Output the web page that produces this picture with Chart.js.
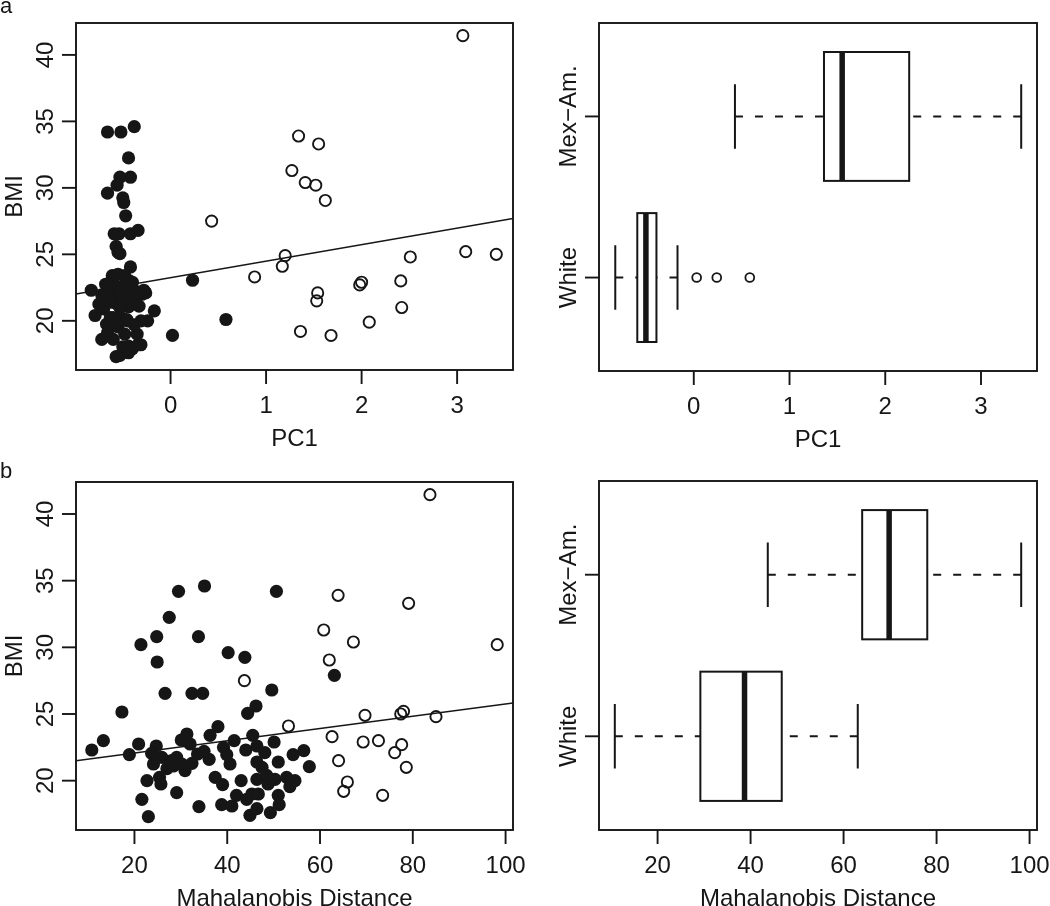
<!DOCTYPE html>
<html lang="en">
<head>
  <meta charset="UTF-8">
  <title>BMI vs PC1 / Mahalanobis Distance</title>
  <script src="https://cdn.jsdelivr.net/npm/chart.js"></script>
  <style>
    body { margin: 0; background: #fff; width: 1050px; height: 906px; overflow: hidden; }
    .panel { position: absolute; }
  </style>
</head>
<body>

<div class="panel" style="left:0;top:0"><canvas id="scatterPC1" width="540" height="453"></canvas></div>
<div class="panel" style="left:540px;top:0"><canvas id="boxPC1" width="510" height="453"></canvas></div>
<div class="panel" style="left:0;top:453px"><canvas id="scatterMD" width="540" height="453"></canvas></div>
<div class="panel" style="left:540px;top:453px"><canvas id="boxMD" width="510" height="453"></canvas></div>

<script>
// White subjects (filled dots): BMI, PC1 score, Mahalanobis distance
const whiteBMI = [34.2, 34.6, 34.2, 32.25, 30.8, 30.8, 30.2, 29.6, 29.25, 28.9, 27.9, 26.55, 26.55, 26.55, 26.8, 25.6, 25.15, 25.05, 24.05,
  22.3, 23.0, 23.4, 23.5, 23.05, 22.75, 21.95, 22.6, 22.05, 21.75, 21.75, 22.75, 22.0, 21.6, 22.5, 21.95, 21.25, 23.4, 22.6, 22.1,
  22.9, 21.95, 22.25, 21.05, 21.4, 21.4, 20.9, 21.1, 21.25, 21.3, 20.25, 20.0, 19.75, 20.25, 19.7, 20.1, 20.4, 20.1, 20.25, 19.55,
  20.0, 19.1, 18.6, 17.3, 18.05, 18.2, 18.1, 18.9, 18.6, 19.0, 19.0, 17.4, 17.9, 18.9, 18.2, 19.75, 21.25, 21.5, 20.75, 20.0, 21.0,
  22.2, 23.0, 17.6, 22.3];
const whitePC1 = [-0.66, -0.38, -0.52, -0.44, -0.42, -0.53, -0.56, -0.66, -0.50, -0.49, -0.47, -0.59, -0.54, -0.42, -0.34, -0.57, -0.55, -0.53, -0.42,
  -0.83, -0.62, -0.61, -0.55, 0.23, -0.66, -0.72, -0.50, -0.45, -0.58, -0.40, -0.68, -0.30, -0.52, -0.47, -0.64, -0.36, -0.48, -0.57, -0.26,
  -0.40, -0.69, -0.53, -0.44, -0.62, -0.49, -0.70, -0.33, -0.56, -0.41, -0.60, -0.24, -0.67, -0.52, -0.38, 0.58, -0.79, -0.46, -0.63, -0.55,
  -0.31, -0.66, -0.72, -0.57, -0.50, -0.31, -0.44, 0.02, -0.60, -0.35, -0.48, -0.53, -0.40, -0.65, -0.34, -0.58, -0.75, -0.64, -0.17, -0.45, -0.53,
  -0.36, -0.43, -0.44, -0.28];
const whiteMD = [29.5, 35.1, 50.6, 27.5, 24.8, 33.8, 21.4, 40.2, 43.8, 24.9, 63.1, 26.6, 32.4, 34.7, 49.6, 46.2, 17.3, 44.4, 38.0,
  10.8, 13.3, 36.3, 31.3, 30.1, 20.9, 18.9, 24.7, 23.7, 25.9, 29.1, 32.0, 33.6, 36.1, 39.2, 39.9, 40.6, 45.5, 46.4, 48.1,
  50.1, 54.2, 56.5, 57.7, 46.4, 51.0, 27.0, 28.4, 30.2, 32.4, 25.4, 22.7, 25.7, 37.4, 39.0, 46.4, 48.5, 50.3, 52.8, 53.5,
  54.6, 29.1, 21.6, 23.0, 33.9, 38.8, 41.0, 42.0, 44.2, 45.3, 46.7, 44.9, 46.4, 51.0, 51.2, 48.8, 24.1, 28.0, 30.9, 43.0, 47.5,
  35.0, 41.5, 49.3, 44.0];

// Mexican-American subjects (open circles)
const mexBMI = [41.45, 33.9, 33.3, 31.3, 30.4, 30.2, 29.05, 27.5, 25.2, 25.0, 24.9, 24.8, 24.1, 23.3, 23.0, 22.9, 22.7, 22.1, 21.5, 21.0, 19.9, 19.2, 18.9];
const mexPC1 = [3.06, 1.34, 1.55, 1.27, 1.41, 1.52, 1.62, 0.43, 3.09, 3.41, 1.20, 2.51, 1.17, 0.88, 2.41, 2.00, 1.98, 1.54, 1.53, 2.42, 2.08, 1.36, 1.68];
const mexMD = [83.7, 63.9, 79.1, 60.8, 67.2, 98.2, 62.0, 43.7, 78.0, 77.4, 69.7, 85.0, 53.2, 62.6, 72.6, 69.3, 77.6, 76.1, 64.0, 78.6, 65.9, 65.1, 73.5];

// least-squares fits [intercept, slope]
const fitPC1 = [23.24, 1.244];
const fitMD = [21.16, 0.046];

// boxplot stats [min, Q1, median, Q3, max]
const groups = ['White', 'Mex\u2212Am.'];
const pc1BoxWhite = [-0.82, -0.59, -0.50, -0.39, -0.17];
const pc1BoxMex = [0.43, 1.36, 1.55, 2.25, 3.42];
const pc1OutWhite = [0.03, 0.24, 0.585];
const mdBoxWhite = [10.8, 29.2, 38.7, 46.7, 63.05];
const mdBoxMex = [43.7, 64.0, 69.8, 78.0, 98.2];

// axes
const bmiTicks = [20, 25, 30, 35, 40];
const pc1Ticks = [0, 1, 2, 3];
const mdTicks = [20, 40, 60, 80, 100];
const bmiRange = [16.3, 42.4];
const pc1Range = [-0.99, 3.585];
const mdRange = [7.4, 101.6];
const groupRange = [0.42, 2.58];

const INK = '#161616';
const FONT = '24px "Liberation Sans", Arial, sans-serif';

function pairs(xs, ys) { return xs.map((x, i) => ({ x: x, y: ys[i] })); }
function fitLine(fit, range) {
  return range.map(x => ({ x: x, y: fit[0] + fit[1] * x }));
}

// R-like frame, outward ticks, rotated y labels
const rAxes = {
  id: 'rAxes',
  afterDraw(chart, args, o) {
    const ctx = chart.ctx, a = chart.chartArea;
    const xs = chart.scales.x, ys = chart.scales.y;
    ctx.save();
    ctx.strokeStyle = INK;
    ctx.fillStyle = INK;
    ctx.lineWidth = 1.9;
    ctx.strokeRect(a.left, a.top, a.right - a.left, a.bottom - a.top);
    ctx.font = FONT;
    ctx.textAlign = 'center';
    ctx.textBaseline = 'alphabetic';
    o.xTicks.forEach(v => {
      const px = xs.getPixelForValue(v);
      ctx.beginPath(); ctx.moveTo(px, a.bottom); ctx.lineTo(px, a.bottom + 14); ctx.stroke();
      ctx.fillText(String(v), px, a.bottom + 43);
    });
    ctx.fillText(o.xTitle, (a.left + a.right) / 2, a.bottom + 76);
    o.yTicks.forEach((v, i) => {
      const py = ys.getPixelForValue(v);
      ctx.beginPath(); ctx.moveTo(a.left, py); ctx.lineTo(a.left - 14, py); ctx.stroke();
      ctx.save();
      ctx.translate(a.left - 23, py);
      ctx.rotate(-Math.PI / 2);
      ctx.fillText(o.yLabels ? o.yLabels[i] : String(v), 0, 0);
      ctx.restore();
    });
    if (o.yTitle) {
      ctx.save();
      ctx.translate(a.left - 54, (a.top + a.bottom) / 2);
      ctx.rotate(-Math.PI / 2);
      ctx.fillText(o.yTitle, 0, 0);
      ctx.restore();
    }
    if (o.letter) {
      ctx.font = '22px "Liberation Sans", Arial, sans-serif';
      ctx.textAlign = 'left';
      ctx.fillText(o.letter[0], 0, o.letter[1]);
    }
    ctx.restore();
  }
};

// horizontal boxplots drawn through the chart scales
const rBoxes = {
  id: 'rBoxes',
  beforeDatasetsDraw(chart, args, o) {
    if (!o.stats) return;
    const ctx = chart.ctx, xs = chart.scales.x, ys = chart.scales.y;
    ctx.save();
    ctx.strokeStyle = INK;
    o.stats.forEach((s, i) => {
      const g = i + 1;
      const X = v => xs.getPixelForValue(v);
      const yTop = ys.getPixelForValue(g + 0.4), yBot = ys.getPixelForValue(g - 0.4);
      const yc = ys.getPixelForValue(g);
      const sTop = ys.getPixelForValue(g + 0.2), sBot = ys.getPixelForValue(g - 0.2);
      // whiskers
      ctx.lineWidth = 2;
      ctx.setLineDash([8, 12]);
      ctx.beginPath();
      ctx.moveTo(X(s[0]), yc); ctx.lineTo(X(s[1]), yc);
      ctx.moveTo(X(s[4]), yc); ctx.lineTo(X(s[3]), yc);
      ctx.stroke();
      ctx.setLineDash([]);
      // staples
      ctx.beginPath();
      ctx.moveTo(X(s[0]), sTop); ctx.lineTo(X(s[0]), sBot);
      ctx.moveTo(X(s[4]), sTop); ctx.lineTo(X(s[4]), sBot);
      ctx.stroke();
      // box
      ctx.fillStyle = '#fff';
      ctx.fillRect(X(s[1]), yTop, X(s[3]) - X(s[1]), yBot - yTop);
      ctx.strokeRect(X(s[1]), yTop, X(s[3]) - X(s[1]), yBot - yTop);
      // median
      ctx.lineWidth = 5.5;
      ctx.beginPath();
      ctx.moveTo(X(s[2]), yTop); ctx.lineTo(X(s[2]), yBot);
      ctx.stroke();
    });
    ctx.restore();
  }
};

Chart.register(rAxes, rBoxes);

function baseOptions(xRange, yRange, pad, axes, boxes) {
  return {
    responsive: false,
    devicePixelRatio: 1,
    animation: false,
    events: [],
    layout: { padding: pad },
    scales: {
      x: { type: 'linear', min: xRange[0], max: xRange[1], display: false },
      y: { type: 'linear', min: yRange[0], max: yRange[1], display: false }
    },
    plugins: {
      legend: { display: false },
      tooltip: { enabled: false },
      rAxes: axes,
      rBoxes: boxes || {}
    }
  };
}

function scatterPanel(id, whiteX, mexX, fit, xRange, xTicks, xTitle, pad, letter) {
  new Chart(document.getElementById(id), {
    type: 'scatter',
    data: {
      datasets: [
        { data: pairs(whiteX, whiteBMI), pointRadius: 6.6, backgroundColor: INK, borderWidth: 0 },
        { data: pairs(mexX, mexBMI), pointRadius: 5.6, backgroundColor: 'rgba(0,0,0,0)', borderColor: INK, borderWidth: 1.9 },
        { data: fitLine(fit, xRange), showLine: true, pointRadius: 0, borderColor: INK, borderWidth: 1.5, fill: false }
      ]
    },
    options: baseOptions(xRange, bmiRange, pad,
      { xTicks: xTicks, yTicks: bmiTicks, xTitle: xTitle, yTitle: 'BMI', letter: letter })
  });
}

function boxPanel(id, statsWhite, statsMex, outliers, xRange, xTicks, xTitle, pad) {
  new Chart(document.getElementById(id), {
    type: 'scatter',
    data: {
      datasets: [
        { data: outliers.map(v => ({ x: v, y: 1 })), pointRadius: 4.4, backgroundColor: 'rgba(0,0,0,0)', borderColor: INK, borderWidth: 1.8 }
      ]
    },
    options: baseOptions(xRange, groupRange, pad,
      { xTicks: xTicks, yTicks: [1, 2], yLabels: groups, xTitle: xTitle },
      { stats: [statsWhite, statsMex] })
  });
}

scatterPanel('scatterPC1', whitePC1, mexPC1, fitPC1, pc1Range, pc1Ticks, 'PC1',
  { left: 76, top: 23, right: 27, bottom: 83 }, ['a', 13]);
boxPanel('boxPC1', pc1BoxWhite, pc1BoxMex, pc1OutWhite, pc1Range, pc1Ticks, 'PC1',
  { left: 59, top: 23, right: 13, bottom: 82 });
scatterPanel('scatterMD', whiteMD, mexMD, fitMD, mdRange, mdTicks, 'Mahalanobis Distance',
  { left: 76, top: 29, right: 27, bottom: 76 }, ['b', 25]);
boxPanel('boxMD', mdBoxWhite, mdBoxMex, [], mdRange, mdTicks, 'Mahalanobis Distance',
  { left: 59, top: 28, right: 13, bottom: 76 });
</script>

</body>
</html>
